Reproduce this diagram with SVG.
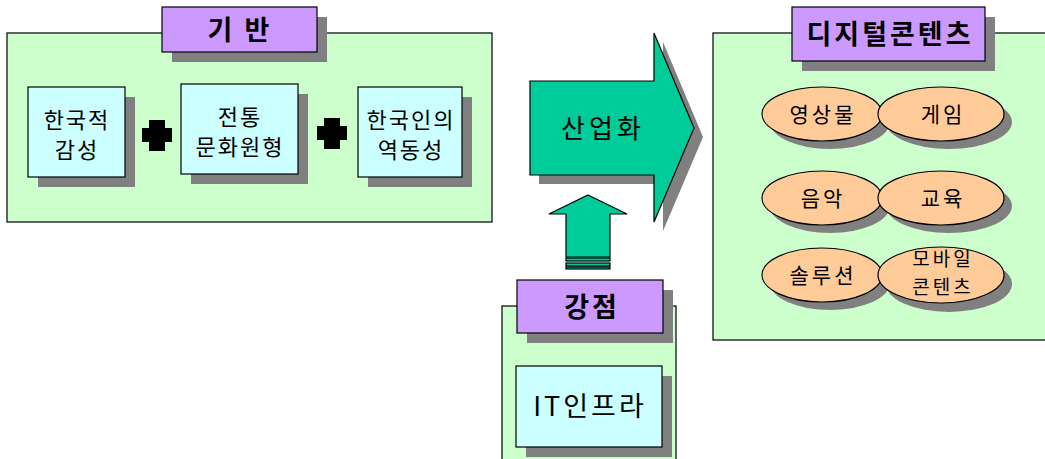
<svg xmlns="http://www.w3.org/2000/svg" width="1045" height="459" viewBox="0 0 1045 459">
<defs>
<style>
.panel{fill:#CCFFCC;stroke:#000;stroke-width:1.2}
.title{fill:#CC99FF;stroke:#000;stroke-width:1.2}
.box{fill:#CCFFFF;stroke:#000;stroke-width:1.2}
.sh{fill:#808080}
.ell{fill:#FFCC99;stroke:#000;stroke-width:1.2}
.arr{fill:#00CC99;stroke:#000;stroke-width:1.2}
text{font-family:"Noto Sans CJK KR","Noto Sans",sans-serif;fill:#000;text-anchor:middle}
.t{font-size:22px;letter-spacing:2px}
.tb{font-size:27px;font-weight:bold;letter-spacing:3px}
.te{font-size:21px;letter-spacing:3px}
.tm{font-size:19px;letter-spacing:3px}
</style>
</defs>
<rect width="1045" height="459" fill="#fff"/>

<g id="base-panel">
<rect class="panel" x="7" y="33" width="485" height="189"/>
</g>
<g id="base-title">
<rect class="sh" x="172" y="17" width="155" height="45"/>
<rect class="title" x="162" y="7" width="155" height="45"/>
<text class="tb" x="240" y="40">기 반</text>
</g>
<g id="box1">
<rect class="sh" x="38" y="97" width="97" height="90"/>
<rect class="box" x="28" y="87" width="97" height="90"/>
<text class="t" x="77" y="128">한국적</text>
<text class="t" x="77" y="158">감성</text>
</g>
<g id="plus1">
<path d="M149,120 h16 v8 h7 v14 h-7 v9 h-16 v-9 h-7 v-14 h7 z" fill="#000"/>
</g>
<g id="box2">
<rect class="sh" x="191" y="94" width="117" height="90"/>
<rect class="box" x="181" y="84" width="117" height="90"/>
<text class="t" x="240" y="125">전통</text>
<text class="t" x="240" y="155">문화원형</text>
</g>
<g id="plus2">
<path d="M324,118 h16 v8 h7 v14 h-7 v9 h-16 v-9 h-7 v-14 h7 z" fill="#000"/>
</g>
<g id="box3">
<rect class="sh" x="368" y="97" width="104" height="90"/>
<rect class="box" x="358" y="87" width="104" height="90"/>
<text class="t" x="411" y="128">한국인의</text>
<text class="t" x="411" y="158">역동성</text>
</g>

<g id="connectors">
<path class="sh" d="M539,90 H663 V42 L703,137 L663,231 V184 H539 Z"/>
<path class="arr" d="M530,81 H654 V33 L694,128 L654,222 V175 H530 Z"/>
<text style="font-size:26px;letter-spacing:4px" x="603" y="138">산업화</text>
<path class="arr" d="M588,195 L627,214 H610 V257 H566 V214 H549 Z"/>
<rect class="arr" x="566" y="258" width="44" height="3"/>
<rect class="arr" x="566" y="263" width="44" height="3"/>
<rect class="arr" x="566" y="267" width="44" height="2"/>
</g>

<g id="digital-panel">
<rect class="panel" x="713" y="33" width="340" height="307"/>
</g>
<g id="digital-title">
<rect class="sh" x="802" y="17" width="193" height="54"/>
<rect class="title" x="792" y="7" width="193" height="54"/>
<text class="tb" x="890" y="44">디지털콘텐츠</text>
</g>
<g id="e-video">
<ellipse class="sh" cx="830" cy="122" rx="60" ry="27"/>
<ellipse class="ell" cx="822" cy="114" rx="60" ry="27"/>
<text class="te" x="823" y="122">영상물</text>
</g>
<g id="e-game">
<ellipse class="sh" cx="949" cy="122" rx="63" ry="27"/>
<ellipse class="ell" cx="941" cy="114" rx="63" ry="27"/>
<text class="te" x="943" y="122">게임</text>
</g>
<g id="e-music">
<ellipse class="sh" cx="830" cy="206" rx="60" ry="27"/>
<ellipse class="ell" cx="822" cy="198" rx="60" ry="27"/>
<text class="te" x="823" y="206">음악</text>
</g>
<g id="e-edu">
<ellipse class="sh" cx="949" cy="206" rx="63" ry="27"/>
<ellipse class="ell" cx="941" cy="198" rx="63" ry="27"/>
<text class="te" x="943" y="206">교육</text>
</g>
<g id="e-solution">
<ellipse class="sh" cx="830" cy="283" rx="60" ry="27"/>
<ellipse class="ell" cx="822" cy="275" rx="60" ry="27"/>
<text class="te" x="823" y="283">솔루션</text>
</g>
<g id="e-mobile">
<ellipse class="sh" cx="949" cy="284" rx="63" ry="28"/>
<ellipse class="ell" cx="941" cy="275" rx="63" ry="28"/>
<text class="tm" x="943" y="266">모바일</text>
<text class="tm" x="943" y="294">콘텐츠</text>
</g>

<g id="strength-panel">
<rect class="panel" x="502" y="306" width="174" height="160"/>
</g>
<g id="strength-title">
<rect class="sh" x="527" y="290" width="146" height="53"/>
<rect class="title" x="517" y="280" width="146" height="53"/>
<text class="tb" x="592" y="317">강점</text>
</g>
<g id="it-infra">
<rect class="sh" x="526" y="376" width="146" height="81"/>
<rect class="box" x="516" y="366" width="146" height="81"/>
<text style="font-size:27px;letter-spacing:3px" x="590" y="416">IT인프라</text>
</g>
</svg>
